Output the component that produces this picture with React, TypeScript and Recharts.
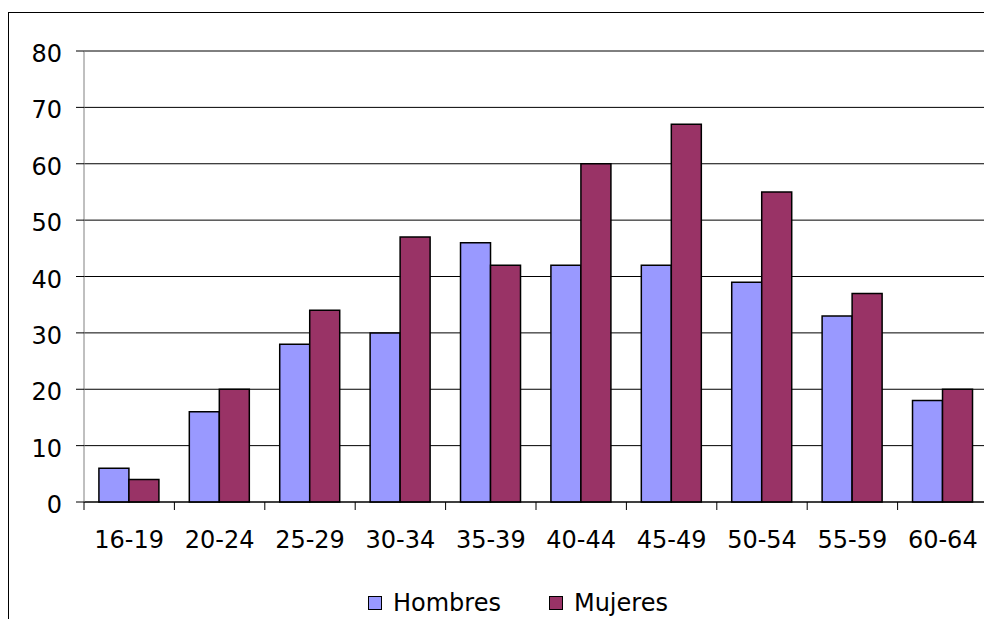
import { BarChart, Bar, XAxis, YAxis, CartesianGrid, Legend } from 'recharts'

const ageGroups = ['16-19', '20-24', '25-29', '30-34', '35-39', '40-44', '45-49', '50-54', '55-59', '60-64']
const hombres = [6, 16, 28, 30, 46, 42, 42, 39, 33, 18]
const mujeres = [4, 20, 34, 47, 42, 60, 67, 55, 37, 20]
const yTicks = [0, 10, 20, 30, 40, 50, 60, 70, 80]

const FONT = '"DejaVu Sans", Verdana, sans-serif'
const FONT_SIZE = 24
const HOMBRES_COLOR = '#9999FF'
const MUJERES_COLOR = '#993366'

const CHART_W = 979
const CHART_H = 606
const Y_AXIS_W = 75
const BAND = (CHART_W - Y_AXIS_W) / ageGroups.length
const TICK_LEN = 8

const data = ageGroups.map((g, i) => ({ grupo: g, Hombres: hombres[i], Mujeres: mujeres[i] }))

// category labels, with the tick marks sitting on the band edges rather than the centres
function AgeTick(props: any) {
  const { x, y, payload, index, visibleTicksCount } = props
  const left = x - BAND / 2
  const right = x + BAND / 2
  return (
    <g>
      <line x1={left} x2={left} y1={y} y2={y + TICK_LEN} stroke="#000" />
      {index === visibleTicksCount - 1 && (
        <line x1={right} x2={right} y1={y} y2={y + TICK_LEN} stroke="#000" />
      )}
      <text x={x} y={y + 46} textAnchor="middle" fontSize={FONT_SIZE} fontFamily={FONT} fill="#000">
        {payload.value}
      </text>
    </g>
  )
}

function ValueTick(props: any) {
  const { x, y, payload } = props
  return (
    <text x={x} y={y + 11} textAnchor="end" fontSize={FONT_SIZE} fontFamily={FONT} fill="#000">
      {payload.value}
    </text>
  )
}

function SexLegend({ payload }: any) {
  return (
    <div
      style={{
        display: 'flex',
        alignItems: 'center',
        height: 40,
        paddingLeft: 359,
        paddingTop: 8,
        boxSizing: 'border-box',
        fontFamily: FONT,
        fontSize: FONT_SIZE,
        color: '#000',
      }}
    >
      {(payload || []).map((entry: any) => (
        <span key={entry.value} style={{ display: 'flex', alignItems: 'center', marginRight: 48 }}>
          <span
            style={{
              width: 12,
              height: 12,
              border: '1px solid #000',
              background: entry.color,
              marginRight: 11,
            }}
          />
          {entry.value}
        </span>
      ))}
    </div>
  )
}

export default function App() {
  return (
    <div
      style={{
        marginTop: 4,
        borderLeft: '1px solid #000',
        borderTop: '1px solid #000',
        width: 983,
        height: CHART_H,
      }}
    >
      <style>{'body { overflow: hidden; }'}</style>
      <BarChart
        width={CHART_W}
        height={CHART_H}
        data={data}
        margin={{ top: 38, right: 0, bottom: 0, left: 0 }}
        barCategoryGap="16.5%"
        barGap={0}
      >
        <CartesianGrid vertical={false} stroke="#000" />
        <XAxis
          dataKey="grupo"
          height={77}
          interval={0}
          tickSize={0}
          tickMargin={0}
          tickLine={false}
          axisLine={{ stroke: '#000' }}
          tick={<AgeTick />}
        />
        <YAxis
          width={Y_AXIS_W}
          domain={[0, 80]}
          ticks={yTicks}
          interval={0}
          tickSize={TICK_LEN}
          tickMargin={14}
          tickLine={{ stroke: '#000' }}
          axisLine={{ stroke: '#808080' }}
          tick={<ValueTick />}
        />
        <YAxis
          yAxisId="borde"
          orientation="right"
          width={0}
          domain={[0, 80]}
          tick={false}
          tickLine={false}
          axisLine={{ stroke: '#808080' }}
        />
        <Legend verticalAlign="bottom" height={40} content={<SexLegend />} />
        <Bar dataKey="Hombres" name="Hombres" fill={HOMBRES_COLOR} stroke="#000" strokeWidth={1.5} isAnimationActive={false} />
        <Bar dataKey="Mujeres" name="Mujeres" fill={MUJERES_COLOR} stroke="#000" strokeWidth={1.5} isAnimationActive={false} />
      </BarChart>
    </div>
  )
}
